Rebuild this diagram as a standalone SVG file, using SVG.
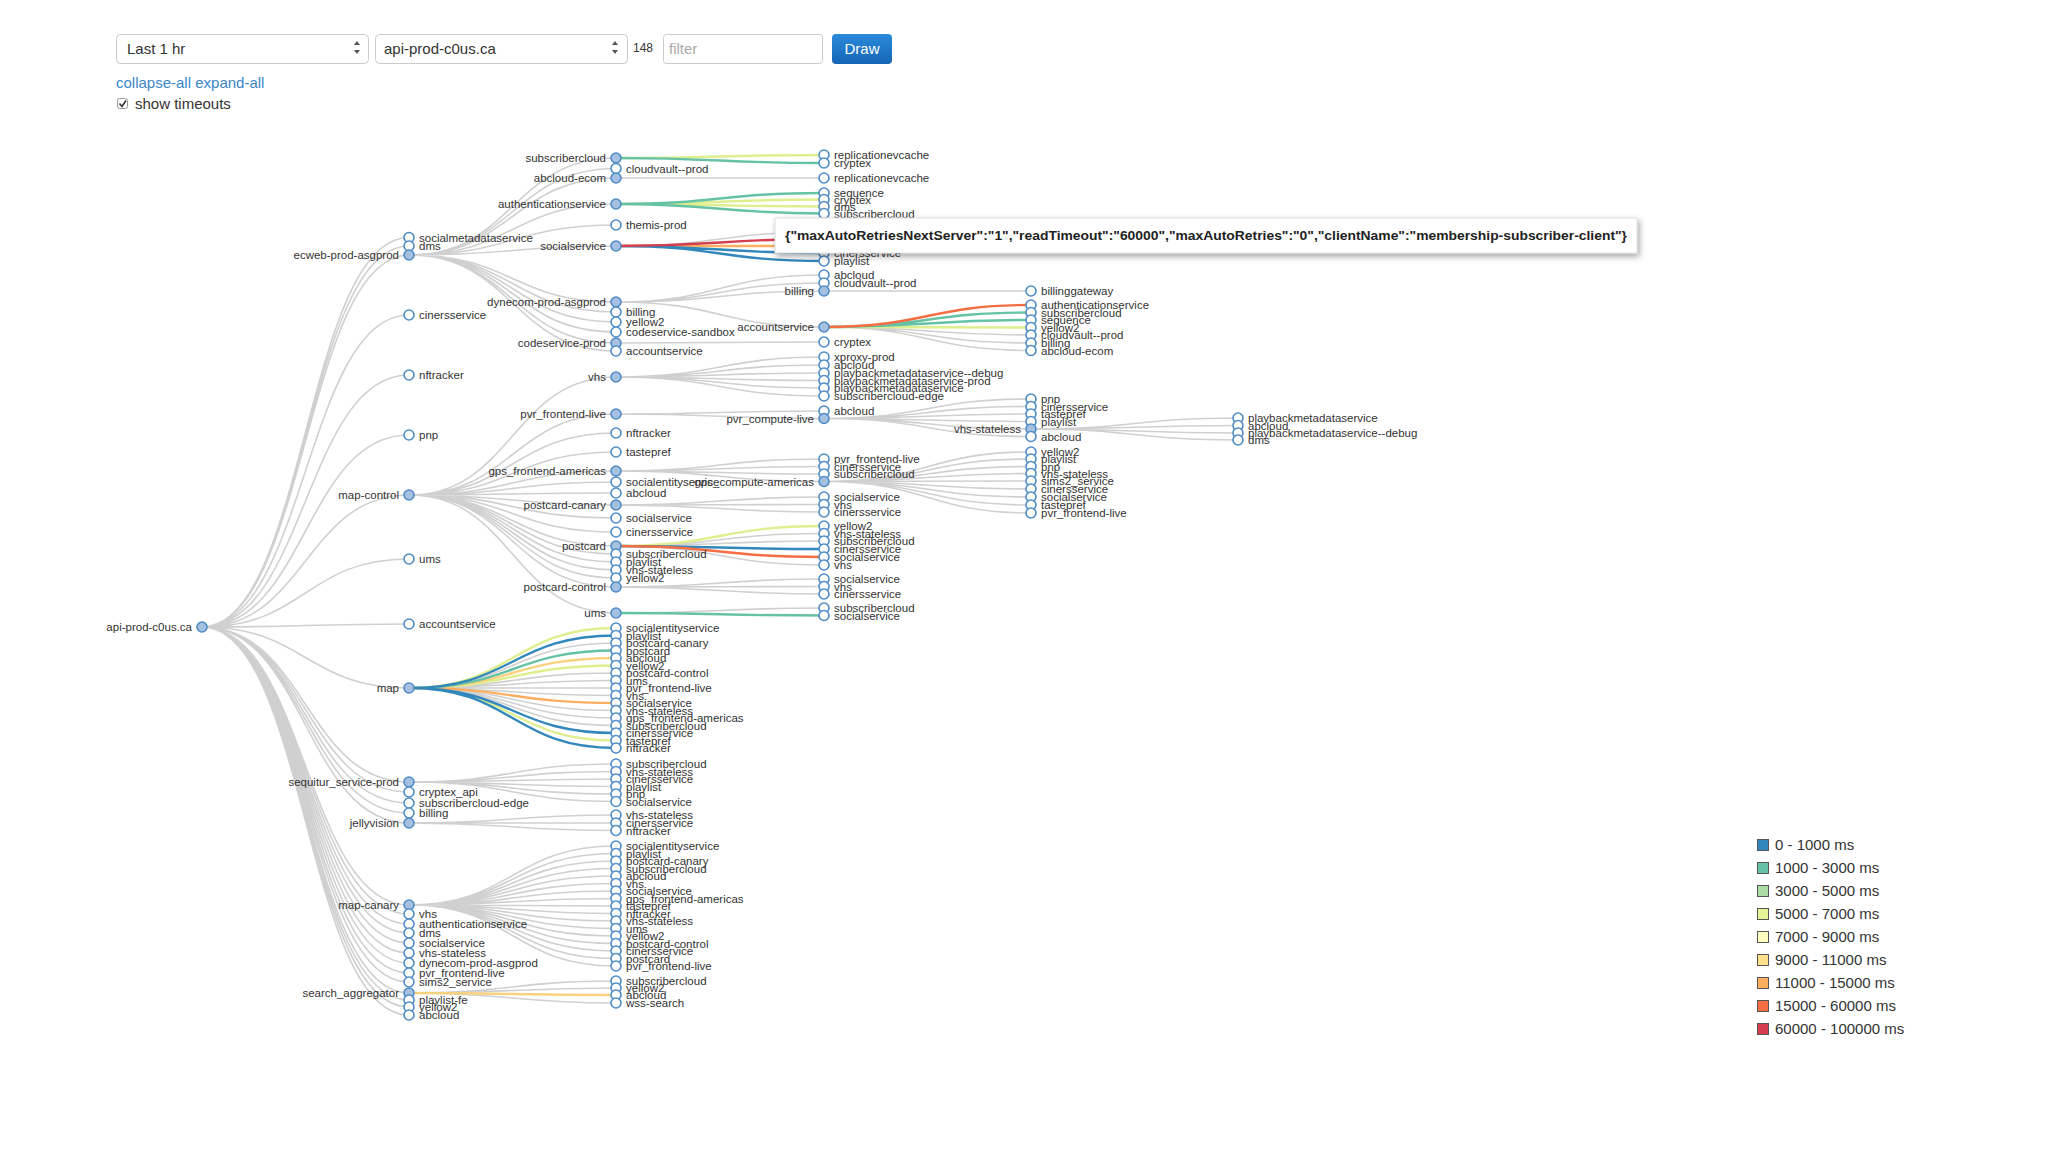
<svg xmlns="http://www.w3.org/2000/svg" width="2048" height="1152" viewBox="0 0 2048 1152">
<defs>
<style>
text{font-family:"Liberation Sans",Arial,Helvetica,sans-serif}
.lk{fill:none;stroke:#d0d0d0;stroke-width:1.6}
.ck{fill:none;stroke-width:2.4}
.bl{stroke:#3288bd}.te{stroke:#66c2a5}.gr{stroke:#abdda4}.yg{stroke:#dfef8f}.ly{stroke:#fff3a8}.lo{stroke:#f9d27e}.or{stroke:#fdae61}.ro{stroke:#f46d43}.rd{stroke:#d53e4f}
.nd circle{fill:#fff;stroke:#4f8cc6;stroke-width:1.6}
.nd.p circle{fill:#a6c0df}
.nd text{font-size:11.5px;fill:#333}
.nd.p text{text-anchor:end}
.ui{font-size:15px;fill:#333}
.lg text{font-size:15px;fill:#333}
.lg rect{stroke:#555;stroke-width:1}
</style>
<linearGradient id="btn" x1="0" y1="0" x2="0" y2="1"><stop offset="0" stop-color="#2a8ada"/><stop offset="1" stop-color="#1565b6"/></linearGradient>
<filter id="sh" x="-5%" y="-50%" width="110%" height="200%"><feDropShadow dx="2" dy="3" stdDeviation="3" flood-color="#000" flood-opacity="0.35"/></filter>
</defs>
<rect width="2048" height="1152" fill="#fff"/>

<g id="controls">
<rect x="116.5" y="34.5" width="252" height="29" rx="4" fill="#fff" stroke="#ccc"/>
<text class="ui" x="127" y="54">Last 1 hr</text>
<path d="M354 45l3-4 3 4zM354 50l3 4 3-4z" fill="#555"/>
<rect x="375.5" y="34.5" width="252" height="29" rx="4" fill="#fff" stroke="#ccc"/>
<text class="ui" x="384" y="54">api-prod-c0us.ca</text>
<path d="M612 45l3-4 3 4zM612 50l3 4 3-4z" fill="#555"/>
<text x="633" y="52" font-size="12" fill="#333">148</text>
<rect x="663.5" y="34.5" width="159" height="29" rx="3" fill="#fff" stroke="#ccc"/>
<text class="ui" x="669" y="54" fill="#aaa" style="fill:#aaa">filter</text>
<rect x="832" y="34" width="60" height="30" rx="4" fill="url(#btn)"/>
<text x="862" y="54" font-size="15" fill="#fff" text-anchor="middle">Draw</text>
<text class="ui" x="116" y="88" style="fill:#3a86c8">collapse-all expand-all</text>
<rect x="117.5" y="98.5" width="10" height="10" rx="2" fill="#fff" stroke="#999"/>
<path d="M119.5 103.5l2.5 3 4-6" fill="none" stroke="#333" stroke-width="1.6"/>
<text class="ui" x="135" y="109">show timeouts</text>
</g>

<g id="links">
<path class="lk" d="M202,627C305.5,627 305.5,237.5 409,237.5M202,627C305.5,627 305.5,246 409,246M202,627C305.5,627 305.5,255 409,255M202,627C305.5,627 305.5,315 409,315M202,627C305.5,627 305.5,375 409,375M202,627C305.5,627 305.5,435 409,435M202,627C305.5,627 305.5,495 409,495M202,627C305.5,627 305.5,559 409,559M202,627C305.5,627 305.5,624 409,624M202,627C305.5,627 305.5,688 409,688M202,627C305.5,627 305.5,782 409,782M202,627C305.5,627 305.5,792 409,792M202,627C305.5,627 305.5,803 409,803M202,627C305.5,627 305.5,813 409,813M202,627C305.5,627 305.5,823 409,823M202,627C305.5,627 305.5,905 409,905M202,627C305.5,627 305.5,914 409,914M202,627C305.5,627 305.5,924 409,924M202,627C305.5,627 305.5,933 409,933M202,627C305.5,627 305.5,943 409,943M202,627C305.5,627 305.5,953 409,953M202,627C305.5,627 305.5,963 409,963M202,627C305.5,627 305.5,973 409,973M202,627C305.5,627 305.5,982 409,982M202,627C305.5,627 305.5,993 409,993M202,627C305.5,627 305.5,1000 409,1000M202,627C305.5,627 305.5,1007 409,1007M202,627C305.5,627 305.5,1015 409,1015"/>
<path class="lk" d="M409,255C512.5,255 512.5,158 616,158M409,255C512.5,255 512.5,168.5 616,168.5M409,255C512.5,255 512.5,178 616,178M409,255C512.5,255 512.5,204 616,204M409,255C512.5,255 512.5,225 616,225M409,255C512.5,255 512.5,246 616,246M409,255C512.5,255 512.5,302 616,302M409,255C512.5,255 512.5,312 616,312M409,255C512.5,255 512.5,322 616,322M409,255C512.5,255 512.5,332 616,332M409,255C512.5,255 512.5,343 616,343M409,255C512.5,255 512.5,351 616,351"/>
<path class="lk" d="M409,495C512.5,495 512.5,377 616,377M409,495C512.5,495 512.5,414 616,414M409,495C512.5,495 512.5,433 616,433M409,495C512.5,495 512.5,452 616,452M409,495C512.5,495 512.5,471 616,471M409,495C512.5,495 512.5,482 616,482M409,495C512.5,495 512.5,493 616,493M409,495C512.5,495 512.5,505 616,505M409,495C512.5,495 512.5,518 616,518M409,495C512.5,495 512.5,532 616,532M409,495C512.5,495 512.5,546 616,546M409,495C512.5,495 512.5,554 616,554M409,495C512.5,495 512.5,562 616,562M409,495C512.5,495 512.5,570 616,570M409,495C512.5,495 512.5,578 616,578M409,495C512.5,495 512.5,587 616,587M409,495C512.5,495 512.5,613 616,613"/>
<path class="lk" d="M409,688C512.5,688 512.5,643 616,643M409,688C512.5,688 512.5,673 616,673M409,688C512.5,688 512.5,680.5 616,680.5M409,688C512.5,688 512.5,688 616,688M409,688C512.5,688 512.5,695.5 616,695.5M409,688C512.5,688 512.5,710.5 616,710.5M409,688C512.5,688 512.5,718 616,718M409,688C512.5,688 512.5,725.5 616,725.5"/>
<path class="lk" d="M409,782C512.5,782 512.5,764 616,764M409,782C512.5,782 512.5,771.5 616,771.5M409,782C512.5,782 512.5,779 616,779M409,782C512.5,782 512.5,786.5 616,786.5M409,782C512.5,782 512.5,794 616,794M409,782C512.5,782 512.5,801.5 616,801.5M409,823C512.5,823 512.5,815 616,815M409,823C512.5,823 512.5,823 616,823M409,823C512.5,823 512.5,830.5 616,830.5"/>
<path class="lk" d="M409,905C512.5,905 512.5,846 616,846M409,905C512.5,905 512.5,853.5 616,853.5M409,905C512.5,905 512.5,861 616,861M409,905C512.5,905 512.5,868.5 616,868.5M409,905C512.5,905 512.5,876 616,876M409,905C512.5,905 512.5,883.5 616,883.5M409,905C512.5,905 512.5,891 616,891M409,905C512.5,905 512.5,898.5 616,898.5M409,905C512.5,905 512.5,906 616,906M409,905C512.5,905 512.5,913.5 616,913.5M409,905C512.5,905 512.5,921 616,921M409,905C512.5,905 512.5,928.5 616,928.5M409,905C512.5,905 512.5,936 616,936M409,905C512.5,905 512.5,943.5 616,943.5M409,905C512.5,905 512.5,951 616,951M409,905C512.5,905 512.5,958.5 616,958.5M409,905C512.5,905 512.5,966 616,966"/>
<path class="lk" d="M409,993C512.5,993 512.5,981 616,981M409,993C512.5,993 512.5,988 616,988M409,993C512.5,993 512.5,1003 616,1003"/>
<path class="lk" d="M616,178C720,178 720,178 824,178M616,246C720,246 720,232 824,232M616,302C720,302 720,275 824,275M616,302C720,302 720,283 824,283M616,302C720,302 720,291 824,291M616,302C720,302 720,327 824,327M616,343C720,343 720,342 824,342M616,377C720,377 720,357 824,357M616,377C720,377 720,365 824,365M616,377C720,377 720,373 824,373M616,377C720,377 720,380.5 824,380.5M616,377C720,377 720,388 824,388M616,377C720,377 720,396 824,396M616,414C720,414 720,411 824,411M616,414C720,414 720,418.5 824,418.5M616,471C720,471 720,459 824,459M616,471C720,471 720,466.5 824,466.5M616,471C720,471 720,474 824,474M616,471C720,471 720,481.5 824,481.5M616,505C720,505 720,497 824,497M616,505C720,505 720,504.5 824,504.5M616,505C720,505 720,512 824,512M616,546C720,546 720,533.5 824,533.5M616,546C720,546 720,541 824,541M616,546C720,546 720,565 824,565M616,587C720,587 720,579 824,579M616,587C720,587 720,586.5 824,586.5M616,587C720,587 720,594 824,594M616,613C720,613 720,608 824,608"/>
<path class="lk" d="M824,291C927.5,291 927.5,291 1031,291M824,327C927.5,327 927.5,335 1031,335M824,327C927.5,327 927.5,343 1031,343M824,327C927.5,327 927.5,350.5 1031,350.5M824,418.5C927.5,418.5 927.5,399 1031,399M824,418.5C927.5,418.5 927.5,406.5 1031,406.5M824,418.5C927.5,418.5 927.5,414 1031,414M824,418.5C927.5,418.5 927.5,421.5 1031,421.5M824,418.5C927.5,418.5 927.5,429 1031,429M824,418.5C927.5,418.5 927.5,436.5 1031,436.5M824,481.5C927.5,481.5 927.5,452 1031,452M824,481.5C927.5,481.5 927.5,459 1031,459M824,481.5C927.5,481.5 927.5,466.5 1031,466.5M824,481.5C927.5,481.5 927.5,473.5 1031,473.5M824,481.5C927.5,481.5 927.5,481 1031,481M824,481.5C927.5,481.5 927.5,489 1031,489M824,481.5C927.5,481.5 927.5,497 1031,497M824,481.5C927.5,481.5 927.5,505 1031,505M824,481.5C927.5,481.5 927.5,513 1031,513M1031,429C1134.5,429 1134.5,418 1238,418M1031,429C1134.5,429 1134.5,425.5 1238,425.5M1031,429C1134.5,429 1134.5,433 1238,433M1031,429C1134.5,429 1134.5,440 1238,440"/>
<path class="ck yg" d="M409,688C512.5,688 512.5,628 616,628M409,688C512.5,688 512.5,665.5 616,665.5M409,688C512.5,688 512.5,740.5 616,740.5M616,158C720,158 720,155 824,155M616,204C720,204 720,199.5 824,199.5M616,204C720,204 720,206.5 824,206.5M616,546C720,546 720,526 824,526M824,327C927.5,327 927.5,327.5 1031,327.5"/>
<path class="ck lo" d="M409,688C512.5,688 512.5,658 616,658M409,993C512.5,993 512.5,995 616,995"/>
<path class="ck or" d="M409,688C512.5,688 512.5,703 616,703M616,246C720,246 720,246 824,246"/>
<path class="ck te" d="M409,688C512.5,688 512.5,650.5 616,650.5M616,158C720,158 720,163 824,163M616,204C720,204 720,193 824,193M616,204C720,204 720,213.5 824,213.5M616,613C720,613 720,615.5 824,615.5M824,327C927.5,327 927.5,312.5 1031,312.5M824,327C927.5,327 927.5,320 1031,320"/>
<path class="ck bl" d="M409,688C512.5,688 512.5,635.5 616,635.5M409,688C512.5,688 512.5,733 616,733M409,688C512.5,688 512.5,748 616,748M616,246C720,246 720,253 824,253M616,246C720,246 720,261 824,261M616,546C720,546 720,549 824,549"/>
<path class="ck ro" d="M616,546C720,546 720,557 824,557M824,327C927.5,327 927.5,305 1031,305"/>
<path class="ck rd" d="M616,246C720,246 720,239 824,239"/>
</g>

<g id="nodes">
<g id="n-root" class="nd p" transform="translate(202,627)"><circle r="5"/><text x="-10" dy="4">api-prod-c0us.ca</text></g>

<g id="n1-socialmetadataservice" class="nd" transform="translate(409,237.5)"><circle r="5"/><text x="10" dy="4">socialmetadataservice</text></g>
<g id="n1-dms" class="nd" transform="translate(409,246)"><circle r="5"/><text x="10" dy="4">dms</text></g>
<g id="n1-ecweb-prod-asgprod" class="nd p" transform="translate(409,255)"><circle r="5"/><text x="-10" dy="4">ecweb-prod-asgprod</text></g>
<g id="n1-cinersservice" class="nd" transform="translate(409,315)"><circle r="5"/><text x="10" dy="4">cinersservice</text></g>
<g id="n1-nftracker" class="nd" transform="translate(409,375)"><circle r="5"/><text x="10" dy="4">nftracker</text></g>
<g id="n1-pnp" class="nd" transform="translate(409,435)"><circle r="5"/><text x="10" dy="4">pnp</text></g>
<g id="n1-map-control" class="nd p" transform="translate(409,495)"><circle r="5"/><text x="-10" dy="4">map-control</text></g>
<g id="n1-ums" class="nd" transform="translate(409,559)"><circle r="5"/><text x="10" dy="4">ums</text></g>
<g id="n1-accountservice" class="nd" transform="translate(409,624)"><circle r="5"/><text x="10" dy="4">accountservice</text></g>
<g id="n1-map" class="nd p" transform="translate(409,688)"><circle r="5"/><text x="-10" dy="4">map</text></g>
<g id="n1-sequitur_service-prod" class="nd p" transform="translate(409,782)"><circle r="5"/><text x="-10" dy="4">sequitur_service-prod</text></g>
<g id="n1-cryptex_api" class="nd" transform="translate(409,792)"><circle r="5"/><text x="10" dy="4">cryptex_api</text></g>
<g id="n1-subscribercloud-edge" class="nd" transform="translate(409,803)"><circle r="5"/><text x="10" dy="4">subscribercloud-edge</text></g>
<g id="n1-billing" class="nd" transform="translate(409,813)"><circle r="5"/><text x="10" dy="4">billing</text></g>
<g id="n1-jellyvision" class="nd p" transform="translate(409,823)"><circle r="5"/><text x="-10" dy="4">jellyvision</text></g>
<g id="n1-map-canary" class="nd p" transform="translate(409,905)"><circle r="5"/><text x="-10" dy="4">map-canary</text></g>
<g id="n1-vhs" class="nd" transform="translate(409,914)"><circle r="5"/><text x="10" dy="4">vhs</text></g>
<g id="n1-authenticationservice" class="nd" transform="translate(409,924)"><circle r="5"/><text x="10" dy="4">authenticationservice</text></g>
<g id="n1-dms2" class="nd" transform="translate(409,933)"><circle r="5"/><text x="10" dy="4">dms</text></g>
<g id="n1-socialservice" class="nd" transform="translate(409,943)"><circle r="5"/><text x="10" dy="4">socialservice</text></g>
<g id="n1-vhs-stateless" class="nd" transform="translate(409,953)"><circle r="5"/><text x="10" dy="4">vhs-stateless</text></g>
<g id="n1-dynecom-prod-asgprod" class="nd" transform="translate(409,963)"><circle r="5"/><text x="10" dy="4">dynecom-prod-asgprod</text></g>
<g id="n1-pvr_frontend-live" class="nd" transform="translate(409,973)"><circle r="5"/><text x="10" dy="4">pvr_frontend-live</text></g>
<g id="n1-sims2_service" class="nd" transform="translate(409,982)"><circle r="5"/><text x="10" dy="4">sims2_service</text></g>
<g id="n1-search_aggregator" class="nd p" transform="translate(409,993)"><circle r="5"/><text x="-10" dy="4">search_aggregator</text></g>
<g id="n1-playlist-fe" class="nd" transform="translate(409,1000)"><circle r="5"/><text x="10" dy="4">playlist-fe</text></g>
<g id="n1-yellow2" class="nd" transform="translate(409,1007)"><circle r="5"/><text x="10" dy="4">yellow2</text></g>
<g id="n1-abcloud" class="nd" transform="translate(409,1015)"><circle r="5"/><text x="10" dy="4">abcloud</text></g>

<g id="n2-e1" class="nd p" transform="translate(616,158)"><circle r="5"/><text x="-10" dy="4">subscribercloud</text></g>
<g id="n2-e2" class="nd" transform="translate(616,168.5)"><circle r="5"/><text x="10" dy="4">cloudvault--prod</text></g>
<g id="n2-e3" class="nd p" transform="translate(616,178)"><circle r="5"/><text x="-10" dy="4">abcloud-ecom</text></g>
<g id="n2-e4" class="nd p" transform="translate(616,204)"><circle r="5"/><text x="-10" dy="4">authenticationservice</text></g>
<g id="n2-e5" class="nd" transform="translate(616,225)"><circle r="5"/><text x="10" dy="4">themis-prod</text></g>
<g id="n2-e6" class="nd p" transform="translate(616,246)"><circle r="5"/><text x="-10" dy="4">socialservice</text></g>
<g id="n2-e7" class="nd p" transform="translate(616,302)"><circle r="5"/><text x="-10" dy="4">dynecom-prod-asgprod</text></g>
<g id="n2-e8" class="nd" transform="translate(616,312)"><circle r="5"/><text x="10" dy="4">billing</text></g>
<g id="n2-e9" class="nd" transform="translate(616,322)"><circle r="5"/><text x="10" dy="4">yellow2</text></g>
<g id="n2-e10" class="nd" transform="translate(616,332)"><circle r="5"/><text x="10" dy="4">codeservice-sandbox</text></g>
<g id="n2-e11" class="nd p" transform="translate(616,343)"><circle r="5"/><text x="-10" dy="4">codeservice-prod</text></g>
<g id="n2-e12" class="nd" transform="translate(616,351)"><circle r="5"/><text x="10" dy="4">accountservice</text></g>

<g id="n2-m1" class="nd p" transform="translate(616,377)"><circle r="5"/><text x="-10" dy="4">vhs</text></g>
<g id="n2-m2" class="nd p" transform="translate(616,414)"><circle r="5"/><text x="-10" dy="4">pvr_frontend-live</text></g>
<g id="n2-m3" class="nd" transform="translate(616,433)"><circle r="5"/><text x="10" dy="4">nftracker</text></g>
<g id="n2-m4" class="nd" transform="translate(616,452)"><circle r="5"/><text x="10" dy="4">tastepref</text></g>
<g id="n2-m5" class="nd p" transform="translate(616,471)"><circle r="5"/><text x="-10" dy="4">gps_frontend-americas</text></g>
<g id="n2-m6" class="nd" transform="translate(616,482)"><circle r="5"/><text x="10" dy="4">socialentityservice</text></g>
<g id="n2-m7" class="nd" transform="translate(616,493)"><circle r="5"/><text x="10" dy="4">abcloud</text></g>
<g id="n2-m8" class="nd p" transform="translate(616,505)"><circle r="5"/><text x="-10" dy="4">postcard-canary</text></g>
<g id="n2-m9" class="nd" transform="translate(616,518)"><circle r="5"/><text x="10" dy="4">socialservice</text></g>
<g id="n2-m10" class="nd" transform="translate(616,532)"><circle r="5"/><text x="10" dy="4">cinersservice</text></g>
<g id="n2-m11" class="nd p" transform="translate(616,546)"><circle r="5"/><text x="-10" dy="4">postcard</text></g>
<g id="n2-m12" class="nd" transform="translate(616,554)"><circle r="5"/><text x="10" dy="4">subscribercloud</text></g>
<g id="n2-m13" class="nd" transform="translate(616,562)"><circle r="5"/><text x="10" dy="4">playlist</text></g>
<g id="n2-m14" class="nd" transform="translate(616,570)"><circle r="5"/><text x="10" dy="4">vhs-stateless</text></g>
<g id="n2-m15" class="nd" transform="translate(616,578)"><circle r="5"/><text x="10" dy="4">yellow2</text></g>
<g id="n2-m16" class="nd p" transform="translate(616,587)"><circle r="5"/><text x="-10" dy="4">postcard-control</text></g>
<g id="n2-m17" class="nd p" transform="translate(616,613)"><circle r="5"/><text x="-10" dy="4">ums</text></g>

<g id="n2-p1" class="nd" transform="translate(616,628)"><circle r="5"/><text x="10" dy="4">socialentityservice</text></g>
<g id="n2-p2" class="nd" transform="translate(616,635.5)"><circle r="5"/><text x="10" dy="4">playlist</text></g>
<g id="n2-p3" class="nd" transform="translate(616,643)"><circle r="5"/><text x="10" dy="4">postcard-canary</text></g>
<g id="n2-p4" class="nd" transform="translate(616,650.5)"><circle r="5"/><text x="10" dy="4">postcard</text></g>
<g id="n2-p5" class="nd" transform="translate(616,658)"><circle r="5"/><text x="10" dy="4">abcloud</text></g>
<g id="n2-p6" class="nd" transform="translate(616,665.5)"><circle r="5"/><text x="10" dy="4">yellow2</text></g>
<g id="n2-p7" class="nd" transform="translate(616,673)"><circle r="5"/><text x="10" dy="4">postcard-control</text></g>
<g id="n2-p8" class="nd" transform="translate(616,680.5)"><circle r="5"/><text x="10" dy="4">ums</text></g>
<g id="n2-p9" class="nd" transform="translate(616,688)"><circle r="5"/><text x="10" dy="4">pvr_frontend-live</text></g>
<g id="n2-p10" class="nd" transform="translate(616,695.5)"><circle r="5"/><text x="10" dy="4">vhs</text></g>
<g id="n2-p11" class="nd" transform="translate(616,703)"><circle r="5"/><text x="10" dy="4">socialservice</text></g>
<g id="n2-p12" class="nd" transform="translate(616,710.5)"><circle r="5"/><text x="10" dy="4">vhs-stateless</text></g>
<g id="n2-p13" class="nd" transform="translate(616,718)"><circle r="5"/><text x="10" dy="4">gps_frontend-americas</text></g>
<g id="n2-p14" class="nd" transform="translate(616,725.5)"><circle r="5"/><text x="10" dy="4">subscribercloud</text></g>
<g id="n2-p15" class="nd" transform="translate(616,733)"><circle r="5"/><text x="10" dy="4">cinersservice</text></g>
<g id="n2-p16" class="nd" transform="translate(616,740.5)"><circle r="5"/><text x="10" dy="4">tastepref</text></g>
<g id="n2-p17" class="nd" transform="translate(616,748)"><circle r="5"/><text x="10" dy="4">nftracker</text></g>

<g id="n2-s1" class="nd" transform="translate(616,764)"><circle r="5"/><text x="10" dy="4">subscribercloud</text></g>
<g id="n2-s2" class="nd" transform="translate(616,771.5)"><circle r="5"/><text x="10" dy="4">vhs-stateless</text></g>
<g id="n2-s3" class="nd" transform="translate(616,779)"><circle r="5"/><text x="10" dy="4">cinersservice</text></g>
<g id="n2-s4" class="nd" transform="translate(616,786.5)"><circle r="5"/><text x="10" dy="4">playlist</text></g>
<g id="n2-s5" class="nd" transform="translate(616,794)"><circle r="5"/><text x="10" dy="4">pnp</text></g>
<g id="n2-s6" class="nd" transform="translate(616,801.5)"><circle r="5"/><text x="10" dy="4">socialservice</text></g>
<g id="n2-j1" class="nd" transform="translate(616,815)"><circle r="5"/><text x="10" dy="4">vhs-stateless</text></g>
<g id="n2-j2" class="nd" transform="translate(616,823)"><circle r="5"/><text x="10" dy="4">cinersservice</text></g>
<g id="n2-j3" class="nd" transform="translate(616,830.5)"><circle r="5"/><text x="10" dy="4">nftracker</text></g>

<g id="n2-c1" class="nd" transform="translate(616,846)"><circle r="5"/><text x="10" dy="4">socialentityservice</text></g>
<g id="n2-c2" class="nd" transform="translate(616,853.5)"><circle r="5"/><text x="10" dy="4">playlist</text></g>
<g id="n2-c3" class="nd" transform="translate(616,861)"><circle r="5"/><text x="10" dy="4">postcard-canary</text></g>
<g id="n2-c4" class="nd" transform="translate(616,868.5)"><circle r="5"/><text x="10" dy="4">subscribercloud</text></g>
<g id="n2-c5" class="nd" transform="translate(616,876)"><circle r="5"/><text x="10" dy="4">abcloud</text></g>
<g id="n2-c6" class="nd" transform="translate(616,883.5)"><circle r="5"/><text x="10" dy="4">vhs</text></g>
<g id="n2-c7" class="nd" transform="translate(616,891)"><circle r="5"/><text x="10" dy="4">socialservice</text></g>
<g id="n2-c8" class="nd" transform="translate(616,898.5)"><circle r="5"/><text x="10" dy="4">gps_frontend-americas</text></g>
<g id="n2-c9" class="nd" transform="translate(616,906)"><circle r="5"/><text x="10" dy="4">tastepref</text></g>
<g id="n2-c10" class="nd" transform="translate(616,913.5)"><circle r="5"/><text x="10" dy="4">nftracker</text></g>
<g id="n2-c11" class="nd" transform="translate(616,921)"><circle r="5"/><text x="10" dy="4">vhs-stateless</text></g>
<g id="n2-c12" class="nd" transform="translate(616,928.5)"><circle r="5"/><text x="10" dy="4">ums</text></g>
<g id="n2-c13" class="nd" transform="translate(616,936)"><circle r="5"/><text x="10" dy="4">yellow2</text></g>
<g id="n2-c14" class="nd" transform="translate(616,943.5)"><circle r="5"/><text x="10" dy="4">postcard-control</text></g>
<g id="n2-c15" class="nd" transform="translate(616,951)"><circle r="5"/><text x="10" dy="4">cinersservice</text></g>
<g id="n2-c16" class="nd" transform="translate(616,958.5)"><circle r="5"/><text x="10" dy="4">postcard</text></g>
<g id="n2-c17" class="nd" transform="translate(616,966)"><circle r="5"/><text x="10" dy="4">pvr_frontend-live</text></g>
<g id="n2-a1" class="nd" transform="translate(616,981)"><circle r="5"/><text x="10" dy="4">subscribercloud</text></g>
<g id="n2-a2" class="nd" transform="translate(616,988)"><circle r="5"/><text x="10" dy="4">yellow2</text></g>
<g id="n2-a3" class="nd" transform="translate(616,995)"><circle r="5"/><text x="10" dy="4">abcloud</text></g>
<g id="n2-a4" class="nd" transform="translate(616,1003)"><circle r="5"/><text x="10" dy="4">wss-search</text></g>

<g id="n3-1" class="nd" transform="translate(824,155)"><circle r="5"/><text x="10" dy="4">replicationevcache</text></g>
<g id="n3-2" class="nd" transform="translate(824,163)"><circle r="5"/><text x="10" dy="4">cryptex</text></g>
<g id="n3-3" class="nd" transform="translate(824,178)"><circle r="5"/><text x="10" dy="4">replicationevcache</text></g>
<g id="n3-4" class="nd" transform="translate(824,193)"><circle r="5"/><text x="10" dy="4">sequence</text></g>
<g id="n3-5" class="nd" transform="translate(824,199.5)"><circle r="5"/><text x="10" dy="4">cryptex</text></g>
<g id="n3-6" class="nd" transform="translate(824,206.5)"><circle r="5"/><text x="10" dy="4">dms</text></g>
<g id="n3-7" class="nd" transform="translate(824,213.5)"><circle r="5"/><text x="10" dy="4">subscribercloud</text></g>
<g id="n3-8" class="nd" transform="translate(824,253)"><circle r="5"/><text x="10" dy="4">cinersservice</text></g>
<g id="n3-9" class="nd" transform="translate(824,261)"><circle r="5"/><text x="10" dy="4">playlist</text></g>
<g id="n3-10" class="nd" transform="translate(824,275)"><circle r="5"/><text x="10" dy="4">abcloud</text></g>
<g id="n3-11" class="nd" transform="translate(824,283)"><circle r="5"/><text x="10" dy="4">cloudvault--prod</text></g>
<g id="n3-12" class="nd p" transform="translate(824,291)"><circle r="5"/><text x="-10" dy="4">billing</text></g>
<g id="n3-13" class="nd p" transform="translate(824,327)"><circle r="5"/><text x="-10" dy="4">accountservice</text></g>
<g id="n3-14" class="nd" transform="translate(824,342)"><circle r="5"/><text x="10" dy="4">cryptex</text></g>
<g id="n3-15" class="nd" transform="translate(824,357)"><circle r="5"/><text x="10" dy="4">xproxy-prod</text></g>
<g id="n3-16" class="nd" transform="translate(824,365)"><circle r="5"/><text x="10" dy="4">abcloud</text></g>
<g id="n3-17" class="nd" transform="translate(824,373)"><circle r="5"/><text x="10" dy="4">playbackmetadataservice--debug</text></g>
<g id="n3-18" class="nd" transform="translate(824,380.5)"><circle r="5"/><text x="10" dy="4">playbackmetadataservice-prod</text></g>
<g id="n3-19" class="nd" transform="translate(824,388)"><circle r="5"/><text x="10" dy="4">playbackmetadataservice</text></g>
<g id="n3-20" class="nd" transform="translate(824,396)"><circle r="5"/><text x="10" dy="4">subscribercloud-edge</text></g>
<g id="n3-21" class="nd" transform="translate(824,411)"><circle r="5"/><text x="10" dy="4">abcloud</text></g>
<g id="n3-22" class="nd p" transform="translate(824,418.5)"><circle r="5"/><text x="-10" dy="4">pvr_compute-live</text></g>
<g id="n3-23" class="nd" transform="translate(824,459)"><circle r="5"/><text x="10" dy="4">pvr_frontend-live</text></g>
<g id="n3-24" class="nd" transform="translate(824,466.5)"><circle r="5"/><text x="10" dy="4">cinersservice</text></g>
<g id="n3-25" class="nd" transform="translate(824,474)"><circle r="5"/><text x="10" dy="4">subscribercloud</text></g>
<g id="n3-26" class="nd p" transform="translate(824,481.5)"><circle r="5"/><text x="-10" dy="4">gps_compute-americas</text></g>
<g id="n3-27" class="nd" transform="translate(824,497)"><circle r="5"/><text x="10" dy="4">socialservice</text></g>
<g id="n3-28" class="nd" transform="translate(824,504.5)"><circle r="5"/><text x="10" dy="4">vhs</text></g>
<g id="n3-29" class="nd" transform="translate(824,512)"><circle r="5"/><text x="10" dy="4">cinersservice</text></g>
<g id="n3-30" class="nd" transform="translate(824,526)"><circle r="5"/><text x="10" dy="4">yellow2</text></g>
<g id="n3-31" class="nd" transform="translate(824,533.5)"><circle r="5"/><text x="10" dy="4">vhs-stateless</text></g>
<g id="n3-32" class="nd" transform="translate(824,541)"><circle r="5"/><text x="10" dy="4">subscribercloud</text></g>
<g id="n3-33" class="nd" transform="translate(824,549)"><circle r="5"/><text x="10" dy="4">cinersservice</text></g>
<g id="n3-34" class="nd" transform="translate(824,557)"><circle r="5"/><text x="10" dy="4">socialservice</text></g>
<g id="n3-35" class="nd" transform="translate(824,565)"><circle r="5"/><text x="10" dy="4">vhs</text></g>
<g id="n3-36" class="nd" transform="translate(824,579)"><circle r="5"/><text x="10" dy="4">socialservice</text></g>
<g id="n3-37" class="nd" transform="translate(824,586.5)"><circle r="5"/><text x="10" dy="4">vhs</text></g>
<g id="n3-38" class="nd" transform="translate(824,594)"><circle r="5"/><text x="10" dy="4">cinersservice</text></g>
<g id="n3-39" class="nd" transform="translate(824,608)"><circle r="5"/><text x="10" dy="4">subscribercloud</text></g>
<g id="n3-40" class="nd" transform="translate(824,615.5)"><circle r="5"/><text x="10" dy="4">socialservice</text></g>

<g id="n4-1" class="nd" transform="translate(1031,291)"><circle r="5"/><text x="10" dy="4">billinggateway</text></g>
<g id="n4-2" class="nd" transform="translate(1031,305)"><circle r="5"/><text x="10" dy="4">authenticationservice</text></g>
<g id="n4-3" class="nd" transform="translate(1031,312.5)"><circle r="5"/><text x="10" dy="4">subscribercloud</text></g>
<g id="n4-4" class="nd" transform="translate(1031,320)"><circle r="5"/><text x="10" dy="4">sequence</text></g>
<g id="n4-5" class="nd" transform="translate(1031,327.5)"><circle r="5"/><text x="10" dy="4">yellow2</text></g>
<g id="n4-6" class="nd" transform="translate(1031,335)"><circle r="5"/><text x="10" dy="4">cloudvault--prod</text></g>
<g id="n4-7" class="nd" transform="translate(1031,343)"><circle r="5"/><text x="10" dy="4">billing</text></g>
<g id="n4-8" class="nd" transform="translate(1031,350.5)"><circle r="5"/><text x="10" dy="4">abcloud-ecom</text></g>
<g id="n4-9" class="nd" transform="translate(1031,399)"><circle r="5"/><text x="10" dy="4">pnp</text></g>
<g id="n4-10" class="nd" transform="translate(1031,406.5)"><circle r="5"/><text x="10" dy="4">cinersservice</text></g>
<g id="n4-11" class="nd" transform="translate(1031,414)"><circle r="5"/><text x="10" dy="4">tastepref</text></g>
<g id="n4-12" class="nd" transform="translate(1031,421.5)"><circle r="5"/><text x="10" dy="4">playlist</text></g>
<g id="n4-13" class="nd p" transform="translate(1031,429)"><circle r="5"/><text x="-10" dy="4">vhs-stateless</text></g>
<g id="n4-14" class="nd" transform="translate(1031,436.5)"><circle r="5"/><text x="10" dy="4">abcloud</text></g>
<g id="n4-15" class="nd" transform="translate(1031,452)"><circle r="5"/><text x="10" dy="4">yellow2</text></g>
<g id="n4-16" class="nd" transform="translate(1031,459)"><circle r="5"/><text x="10" dy="4">playlist</text></g>
<g id="n4-17" class="nd" transform="translate(1031,466.5)"><circle r="5"/><text x="10" dy="4">pnp</text></g>
<g id="n4-18" class="nd" transform="translate(1031,473.5)"><circle r="5"/><text x="10" dy="4">vhs-stateless</text></g>
<g id="n4-19" class="nd" transform="translate(1031,481)"><circle r="5"/><text x="10" dy="4">sims2_service</text></g>
<g id="n4-20" class="nd" transform="translate(1031,489)"><circle r="5"/><text x="10" dy="4">cinersservice</text></g>
<g id="n4-21" class="nd" transform="translate(1031,497)"><circle r="5"/><text x="10" dy="4">socialservice</text></g>
<g id="n4-22" class="nd" transform="translate(1031,505)"><circle r="5"/><text x="10" dy="4">tastepref</text></g>
<g id="n4-23" class="nd" transform="translate(1031,513)"><circle r="5"/><text x="10" dy="4">pvr_frontend-live</text></g>

<g id="n5-1" class="nd" transform="translate(1238,418)"><circle r="5"/><text x="10" dy="4">playbackmetadataservice</text></g>
<g id="n5-2" class="nd" transform="translate(1238,425.5)"><circle r="5"/><text x="10" dy="4">abcloud</text></g>
<g id="n5-3" class="nd" transform="translate(1238,433)"><circle r="5"/><text x="10" dy="4">playbackmetadataservice--debug</text></g>
<g id="n5-4" class="nd" transform="translate(1238,440)"><circle r="5"/><text x="10" dy="4">dms</text></g>
</g>

<g id="tooltip">
<rect x="775" y="218" width="862" height="35" fill="#fff" stroke="#ddd" filter="url(#sh)"/>
<text x="785" y="240" font-size="13" font-weight="bold" fill="#222" textLength="842" lengthAdjust="spacingAndGlyphs">{"maxAutoRetriesNextServer":"1","readTimeout":"60000","maxAutoRetries":"0","clientName":"membership-subscriber-client"}</text>
</g>

<g id="legend" class="lg">
<rect x="1757.5" y="839.5" width="11" height="11" fill="#3288bd"/><text x="1775" y="850">0 - 1000 ms</text>
<rect x="1757.5" y="862.5" width="11" height="11" fill="#66c2a5"/><text x="1775" y="873">1000 - 3000 ms</text>
<rect x="1757.5" y="885.5" width="11" height="11" fill="#abdda4"/><text x="1775" y="896">3000 - 5000 ms</text>
<rect x="1757.5" y="908.5" width="11" height="11" fill="#e6f598"/><text x="1775" y="919">5000 - 7000 ms</text>
<rect x="1757.5" y="931.5" width="11" height="11" fill="#ffffbf"/><text x="1775" y="942">7000 - 9000 ms</text>
<rect x="1757.5" y="954.5" width="11" height="11" fill="#fee08b"/><text x="1775" y="965">9000 - 11000 ms</text>
<rect x="1757.5" y="977.5" width="11" height="11" fill="#fdae61"/><text x="1775" y="988">11000 - 15000 ms</text>
<rect x="1757.5" y="1000.5" width="11" height="11" fill="#f46d43"/><text x="1775" y="1011">15000 - 60000 ms</text>
<rect x="1757.5" y="1023.5" width="11" height="11" fill="#d53e4f"/><text x="1775" y="1034">60000 - 100000 ms</text>
</g>
</svg>
